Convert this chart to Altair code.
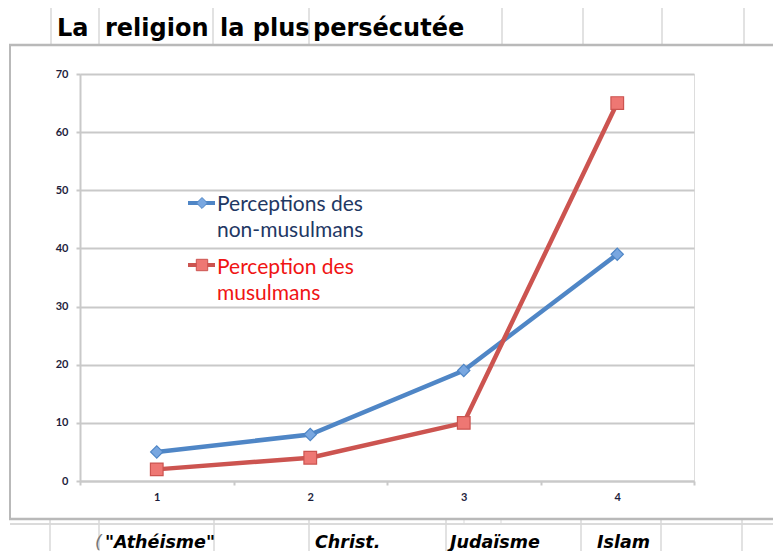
import altair as alt
import pandas as pd

# ---- data ----
categories = ["1", "2", "3", "4"]
series_names = ["Perceptions des non-musulmans", "Perception des musulmans"]
non_muslims = [5, 8, 19, 39]
muslims = [2, 4, 10, 65]
y_ticks = [0, 10, 20, 30, 40, 50, 60, 70]
title_words = ["La", "religion", "la plus", "persécutée"]
bottom_labels = ['"Athéisme"', "Christ.", "Judaïsme", "Islam"]
legend_lines = [["Perceptions des", "non-musulmans"], ["Perception des", "musulmans"]]

rows = []
for c, v in zip(categories, non_muslims):
    rows.append({"cat": c, "series": series_names[0], "value": v})
for c, v in zip(categories, muslims):
    rows.append({"cat": c, "series": series_names[1], "value": v})
df = pd.DataFrame(rows)

BLUE = "#4f86c6"
BLUE_FILL = "#79a7e0"
RED = "#cc5450"
RED_FILL = "#ee7773"
GRID = "#c9c9c9"
CELL = "#d9d9d9"
LABEL = "#1e1e3c"

x_enc = alt.X(
    "cat:O",
    sort=categories,
    bandPosition=0.5,
    scale=alt.Scale(type="band", paddingInner=0, paddingOuter=0),
    axis=alt.Axis(
        title=None, labelAngle=0, tickBand="extent", grid=False,
        domainColor=GRID, domainWidth=2, tickColor=GRID, tickWidth=2, tickSize=4,
        labelPadding=6, labelFont="Lato", labelFontWeight="bold", labelFontSize=11,
        labelColor=LABEL,
    ),
)
y_enc = alt.Y(
    "value:Q",
    scale=alt.Scale(domain=[0, 70], nice=False),
    axis=alt.Axis(
        title=None, values=y_ticks, grid=True, gridColor=GRID, gridWidth=2,
        domainColor=GRID, domainWidth=2, tickColor=GRID, tickWidth=2, tickSize=4,
        labelPadding=8, labelFont="Lato", labelFontWeight="bold", labelFontSize=11,
        labelColor=LABEL,
    ),
)

lines = alt.Chart(df).mark_line(strokeWidth=4.5).encode(
    x=x_enc, y=y_enc,
    color=alt.Color("series:N", scale=alt.Scale(domain=series_names, range=[BLUE, RED]), legend=None),
    detail="series:N",
)
points = alt.Chart(df).mark_point(filled=True, opacity=1, strokeWidth=1.2).encode(
    x=x_enc, y=y_enc,
    shape=alt.Shape("series:N", scale=alt.Scale(domain=series_names, range=["diamond", "square"]), legend=None),
    fill=alt.Fill("series:N", scale=alt.Scale(domain=series_names, range=[BLUE_FILL, RED_FILL]), legend=None),
    stroke=alt.Stroke("series:N", scale=alt.Scale(domain=series_names, range=[BLUE, RED]), legend=None),
    size=alt.Size("series:N", scale=alt.Scale(domain=series_names, range=[150, 160]), legend=None),
)

one = pd.DataFrame({"k": [0]})


def seg(x1, y1, x2, y2, color=CELL, width=1.5):
    return alt.Chart(one).mark_rule(color=color, strokeWidth=width).encode(
        x=alt.value(x1), x2=alt.value(x2), y=alt.value(y1), y2=alt.value(y2)
    )


def txt(s, x, y, size, color="black", weight="normal", style="normal", font="Liberation Sans", lh=None):
    kw = {}
    if lh is not None:
        kw["lineHeight"] = lh
    return alt.Chart(one).mark_text(
        text=s, align="left", baseline="alphabetic", fontSize=size, color=color,
        fontWeight=weight, fontStyle=style, font=font, **kw
    ).encode(x=alt.value(x), y=alt.value(y))


RIGHT = 693  # right edge of the canvas, relative to the plot origin
deco = []
# spreadsheet title row cell lines
for cx in [-29, 19, 133, 229, 422, 503, 582, 664]:
    deco.append(seg(cx, -66, cx, -29))
# bottom row lines
deco.append(seg(-70, 450, RIGHT, 450, color="#cfcfcf", width=1.5))
for cx in [-30, 19, 134, 229, 366, 501, 581, 662]:
    deco.append(seg(cx, 445, cx, 477))
for cx in [384, 421]:
    deco.append(seg(cx, 445, cx, 450, width=1))
# chart frame (top, left, bottom edges; right edge lies off-page)
FRAME = "#b9b9b9"
deco.append(seg(-71, -29, RIGHT, -29, color=FRAME, width=2.5))
deco.append(seg(-70, -29, -70, 445, color=FRAME, width=2))
deco.append(seg(-71, 445, RIGHT, 445, color=FRAME, width=2.5))
# title words
for w, tx in zip(title_words, [-23, 25, 140, 233]):
    deco.append(txt(w, tx, -38, 24, weight="bold", font="DejaVu Sans"))
# bottom labels
deco.append(txt("(", 15, 474, 17.5, weight="normal", style="italic", color="#777777", font="DejaVu Sans"))
for w, tx in zip(bottom_labels, [25, 235, 370, 517]):
    deco.append(txt(w, tx, 474, 17.5, weight="bold", style="italic", font="DejaVu Sans"))

# legend
legend_layers = [
    seg(108, 129, 135, 129, color=BLUE, width=4),
    alt.Chart(one).mark_point(shape="diamond", filled=True, size=120, fill=BLUE_FILL, stroke=BLUE, strokeWidth=1, opacity=1).encode(
        x=alt.value(122), y=alt.value(129)),
    txt(legend_lines[0], 137, 137, 21, color="#1f3864", font="Lato", lh=26),
    seg(108, 191, 135, 191, color=RED, width=4),
    alt.Chart(one).mark_point(shape="square", filled=True, size=130, fill=RED_FILL, stroke=RED, strokeWidth=1, opacity=1).encode(
        x=alt.value(122), y=alt.value(191)),
    txt(legend_lines[1], 137, 200, 21, color="#f01414", font="Lato", lh=26),
]

chart = alt.layer(lines, points, *deco, *legend_layers).properties(
    width=614, height=407,
    autosize=alt.AutoSizeParams(type="none"),
    padding={"left": 72, "top": 66, "right": 79, "bottom": 70},
).configure_view(stroke=None).configure(background="white")

chart.save("out.html", embed_options={"renderer": "svg", "actions": False})
